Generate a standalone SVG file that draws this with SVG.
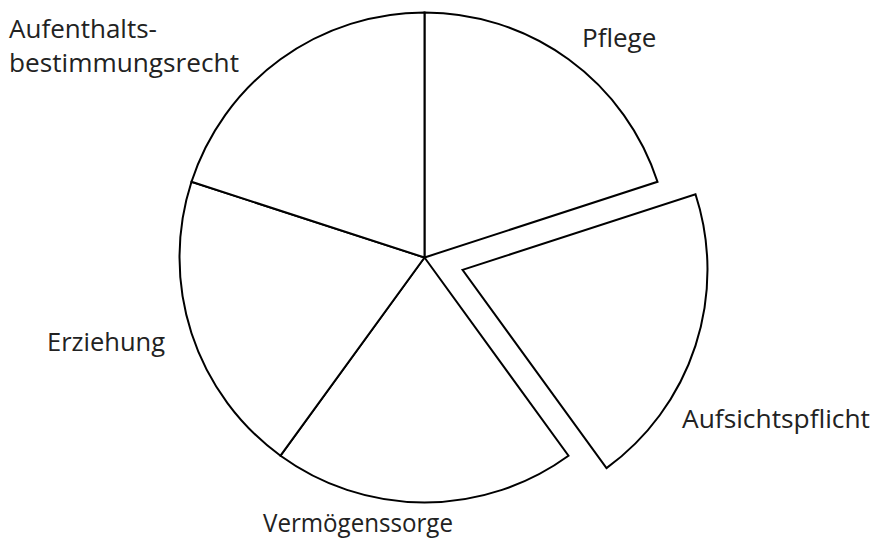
<svg xmlns="http://www.w3.org/2000/svg" width="877" height="549" viewBox="0 0 877 549">
<style>
.s{fill:#fff;stroke:#000;stroke-width:2;stroke-linejoin:miter}
.t{font-family:"Open Sans","Noto Sans","Liberation Sans",sans-serif;font-size:26px;fill:#222}
</style>
<rect width="877" height="549" fill="#fff"/>
<g id="pie">
<g id="slice-pflege"><path class="s" d="M424.5,257.5 L424.5,12.5 A245,245 0 0 1 657.5,181.8 Z"/></g>
<g id="slice-aufsicht"><path class="s" d="M462.5,269.9 L695.5,194.2 A245,245 0 0 1 606.5,468.1 Z"/></g>
<g id="slice-vermoegen"><path class="s" d="M424.5,257.5 L568.5,455.7 A245,245 0 0 1 280.5,455.7 Z"/></g>
<g id="slice-erziehung"><path class="s" d="M424.5,257.5 L280.5,455.7 A245,245 0 0 1 191.5,181.8 Z"/></g>
<g id="slice-aufenthalt"><path class="s" d="M424.5,257.5 L191.5,181.8 A245,245 0 0 1 424.5,12.5 Z"/></g>
</g>
<g id="labels">
<g id="label-pflege"><text class="t" x="582" y="47">Pflege</text></g>
<g id="label-aufsicht"><text class="t" x="682" y="428" textLength="188" lengthAdjust="spacingAndGlyphs">Aufsichtspflicht</text></g>
<g id="label-vermoegen"><text class="t" x="263" y="532" textLength="190" lengthAdjust="spacingAndGlyphs">Vermögenssorge</text></g>
<g id="label-erziehung"><text class="t" x="47" y="351" textLength="118" lengthAdjust="spacingAndGlyphs">Erziehung</text></g>
<g id="label-aufenthalt"><text class="t" x="9" y="38">Aufenthalts-</text><text class="t" x="9" y="72" textLength="230" lengthAdjust="spacingAndGlyphs">bestimmungsrecht</text></g>
</g>
<g id="connectors"/>
</svg>
